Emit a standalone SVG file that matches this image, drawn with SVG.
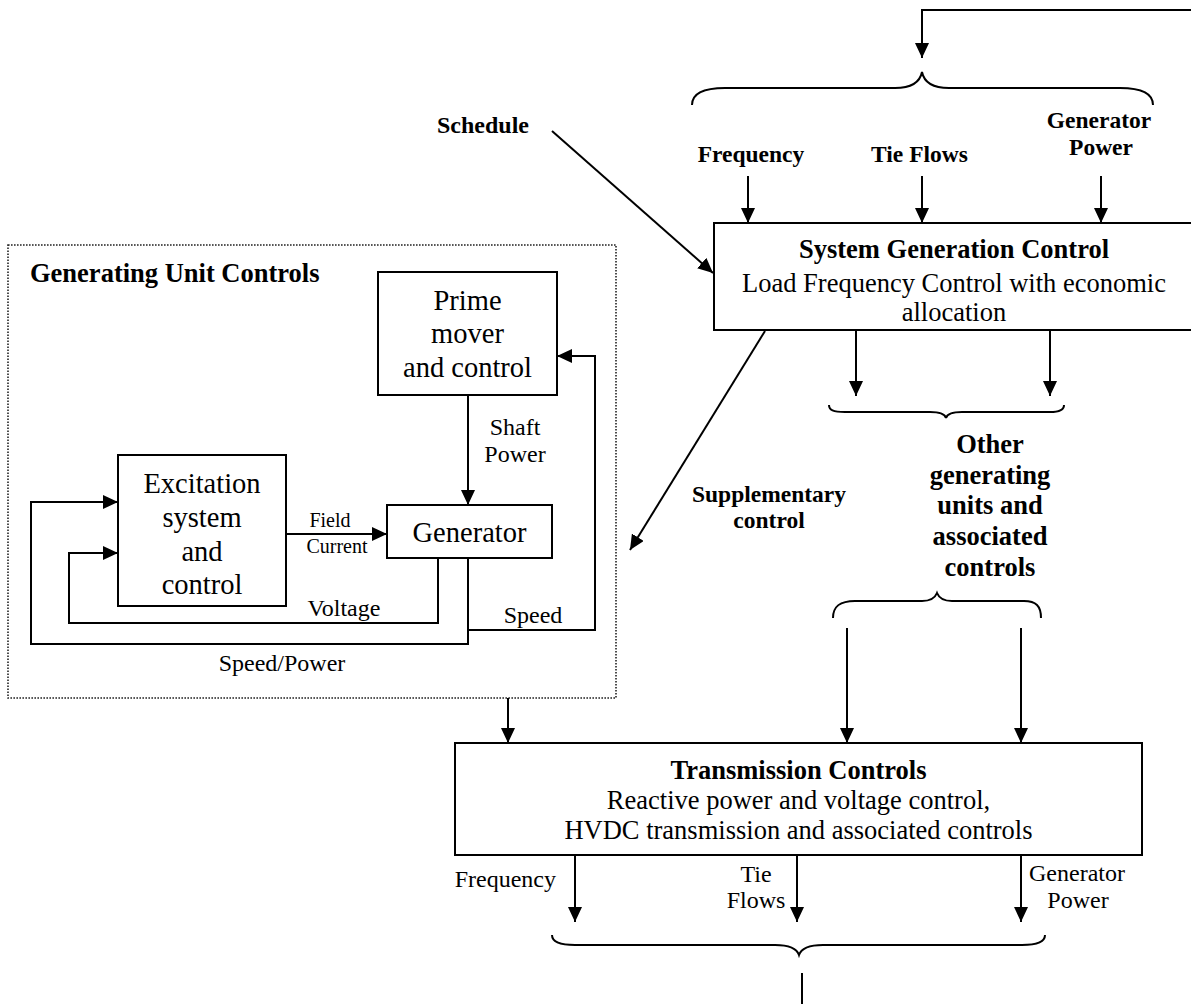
<svg xmlns="http://www.w3.org/2000/svg" width="1191" height="1004" viewBox="0 0 1191 1004">
<style>
text { font-family: "Liberation Serif", "Times New Roman", serif; fill: #000; }
.b { font-weight: bold; }
.t265 { font-size: 26.5px; }
.t28 { font-size: 28.5px; }
.t24 { font-size: 24px; }
.t235 { font-size: 23.5px; }
.t20 { font-size: 20px; }
.box { fill: #fff; stroke: #000; stroke-width: 2; }
.ln { fill: none; stroke: #000; stroke-width: 2; }
.arr { fill: none; stroke: #000; stroke-width: 2; marker-end: url(#ah); }
.brace { fill: none; stroke: #000; stroke-width: 2; }
.dot { fill: none; stroke: #222; stroke-width: 1.6; stroke-dasharray: 1.6 1.4; }
</style>
<defs>
<marker id="ah" markerUnits="userSpaceOnUse" markerWidth="16" markerHeight="14" refX="15" refY="7" orient="auto">
<path d="M0,0 L15,7 L0,14 z" fill="#000"/>
</marker>
</defs>
<rect width="1191" height="1004" fill="#fff"/>

<g id="generating-unit-controls">
<rect class="dot" x="8" y="245" width="608" height="453"/>
<text class="b t265" x="30" y="282">Generating Unit Controls</text>
</g>

<g id="prime-mover">
<rect class="box" x="378" y="272" width="179" height="123"/>
<text class="t28" x="467.5" y="310" text-anchor="middle">Prime</text>
<text class="t28" x="467.5" y="343" text-anchor="middle">mover</text>
<text class="t28" x="467.5" y="377" text-anchor="middle">and control</text>
</g>

<g id="excitation">
<rect class="box" x="118" y="455" width="168" height="151"/>
<text class="t28" x="202" y="493" text-anchor="middle">Excitation</text>
<text class="t28" x="202" y="527" text-anchor="middle">system</text>
<text class="t28" x="202" y="561" text-anchor="middle">and</text>
<text class="t28" x="202" y="594" text-anchor="middle">control</text>
</g>

<g id="generator">
<rect class="box" x="387" y="505" width="165" height="53"/>
<text class="t28" x="469.5" y="542" text-anchor="middle">Generator</text>
</g>

<g id="system-generation-control">
<rect class="box" x="714" y="223" width="481" height="107"/>
<text class="b t265" x="954" y="258" text-anchor="middle">System Generation Control</text>
<text class="t265" x="954" y="292" text-anchor="middle">Load Frequency Control with economic</text>
<text class="t265" x="954" y="321" text-anchor="middle">allocation</text>
</g>

<g id="transmission-controls">
<rect class="box" x="455" y="743" width="687" height="112"/>
<text class="b t265" x="798.5" y="779" text-anchor="middle">Transmission Controls</text>
<text class="t265" x="798.5" y="809" text-anchor="middle">Reactive power and voltage control,</text>
<text class="t265" x="798.5" y="839" text-anchor="middle">HVDC transmission and associated controls</text>
</g>

<g id="other-units">
<text class="b t265" x="990" y="453" text-anchor="middle">Other</text>
<text class="b t265" x="990" y="484" text-anchor="middle">generating</text>
<text class="b t265" x="990" y="514" text-anchor="middle">units and</text>
<text class="b t265" x="990" y="545" text-anchor="middle">associated</text>
<text class="b t265" x="990" y="576" text-anchor="middle">controls</text>
</g>

<g id="labels">
<text class="b t24" x="483" y="133" text-anchor="middle">Schedule</text>
<text class="b t235" x="751" y="162" text-anchor="middle">Frequency</text>
<text class="b t235" x="919.5" y="162" text-anchor="middle">Tie Flows</text>
<text class="b t235" x="1099" y="128" text-anchor="middle">Generator</text>
<text class="b t235" x="1101" y="155" text-anchor="middle">Power</text>
<text class="b t235" x="769" y="502" text-anchor="middle">Supplementary</text>
<text class="b t235" x="769" y="528" text-anchor="middle">control</text>
<text class="t24" x="515" y="435" text-anchor="middle">Shaft</text>
<text class="t24" x="515" y="462" text-anchor="middle">Power</text>
<text class="t20" x="330" y="527" text-anchor="middle">Field</text>
<text class="t20" x="337" y="553" text-anchor="middle">Current</text>
<text class="t24" x="344" y="616" text-anchor="middle">Voltage</text>
<text class="t24" x="533" y="623" text-anchor="middle">Speed</text>
<text class="t24" x="282" y="671" text-anchor="middle">Speed/Power</text>
<text class="t24" x="556" y="887" text-anchor="end">Frequency</text>
<text class="t24" x="756" y="882" text-anchor="middle">Tie</text>
<text class="t24" x="756" y="908" text-anchor="middle">Flows</text>
<text class="t24" x="1077" y="881" text-anchor="middle">Generator</text>
<text class="t24" x="1078" y="908" text-anchor="middle">Power</text>
</g>

<g id="connectors">
<polyline class="arr" points="1191,10 922,10 922,58"/>
<path class="brace" d="M692,105 C692,95 700,88 725,88 L895,88 C912,88 920,82 922,72 C924,82 932,88 949,88 L1120,88 C1145,88 1153,95 1153,105"/>
<line class="arr" x1="748" y1="176" x2="748" y2="223"/>
<line class="arr" x1="922" y1="176" x2="922" y2="223"/>
<line class="arr" x1="1101" y1="176" x2="1101" y2="223"/>
<line class="arr" x1="552" y1="131" x2="713" y2="273"/>
<line class="arr" x1="765" y1="331" x2="630" y2="550"/>
<line class="arr" x1="856" y1="331" x2="856" y2="396"/>
<line class="arr" x1="1050" y1="331" x2="1050" y2="396"/>
<path class="brace" d="M829,405 C829,410 833,412 845,412 L930,412 C940,412 945,414 946,418 C947,414 952,412 962,412 L1050,412 C1060,412 1064,410 1064,405"/>
<path class="brace" d="M833,618 C833,606 840,601 855,601 L922,601 C930,601 935,598 937,593 C939,598 944,601 952,601 L1024,601 C1036,601 1041,606 1041,618"/>
<line class="arr" x1="847" y1="628" x2="847" y2="743"/>
<line class="arr" x1="1021" y1="628" x2="1021" y2="743"/>
<line class="arr" x1="508" y1="698" x2="508" y2="743"/>
<line class="arr" x1="575" y1="855" x2="575" y2="922"/>
<line class="arr" x1="797" y1="855" x2="797" y2="922"/>
<line class="arr" x1="1021" y1="855" x2="1021" y2="922"/>
<path class="brace" d="M552,935 C552,941 558,945 575,945 L775,945 C790,945 797,949 799,955 C801,949 808,945 823,945 L1022,945 C1039,945 1045,941 1045,935"/>
<line class="ln" x1="802" y1="973" x2="802" y2="1004"/>
<line class="arr" x1="468" y1="395" x2="468" y2="505"/>
<line class="arr" x1="286" y1="534" x2="387" y2="534"/>
<polyline class="arr" points="438,558 438,623 69,623 69,553 118,553"/>
<polyline class="arr" points="468,558 468,644 31,644 31,502 118,502"/>
<polyline class="arr" points="468,630 595,630 595,356 557,356"/>
</g>
</svg>
